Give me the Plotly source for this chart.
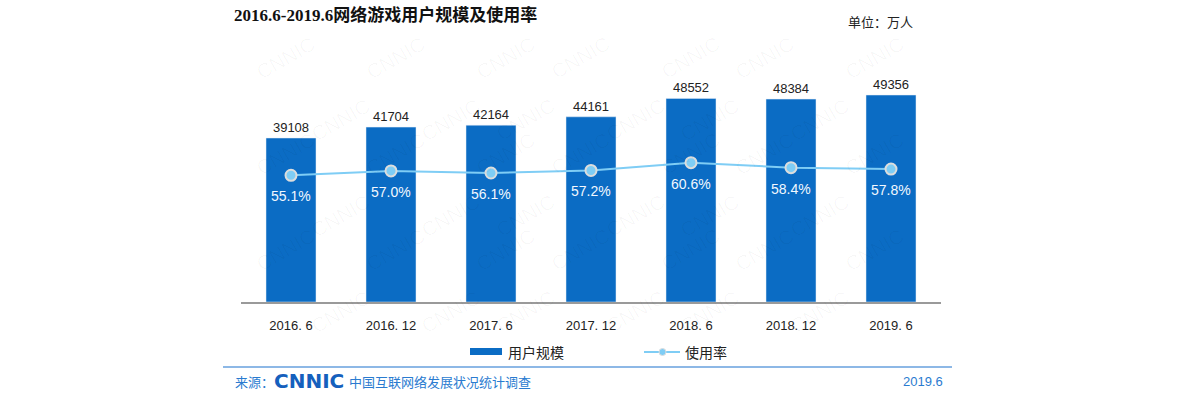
import plotly.graph_objects as go

categories = ["2016. 6", "2016. 12", "2017. 6", "2017. 12", "2018. 6", "2018. 12", "2019. 6"]
users = [39108, 41704, 42164, 44161, 48552, 48384, 49356]
rate = [55.1, 57.0, 56.1, 57.2, 60.6, 58.4, 57.8]
rate_labels = [f"{v:.1f}%" for v in rate]

CJK = "Noto Sans CJK SC"
SANS = "Liberation Sans, Arial, sans-serif"
BAR = "#0b6cc4"
LINE = "#7fcdf5"
BLUE_TXT = "#2a7bd0"

# plot area in page px: x 241..941, y 55..302 (body margin removed by post_script)
L, R, T, B = 241, 941, 55, 302
W, H = 1200, 394


def px(x):
    return (x - 241) / 700


def py(y):
    return (302 - y) / 247


fig = go.Figure()
fig.add_trace(go.Bar(
    x=categories, y=users, name="用户规模", marker_color=BAR, width=0.5,
    text=[str(v) for v in users], textposition="outside",
    textfont=dict(family=SANS, size=13, color="#222"), cliponaxis=False,
))
fig.add_trace(go.Scatter(
    x=categories, y=rate, name="使用率", yaxis="y2", mode="lines+markers",
    line=dict(color=LINE, width=2),
    marker=dict(color=LINE, size=11, line=dict(color="#dddddd", width=2)),
    cliponaxis=False,
))

ann = []
# faint watermark
for row, yy in enumerate(range(30, 360, 62)):
    for xx in range(250 + (row % 2) * 55, 960, 110):
        ann.append(dict(text="CNNIC", x=px(xx), y=py(yy),
                        xref="paper", yref="paper", showarrow=False, textangle=-30,
                        font=dict(family=SANS, size=20, color="rgba(0,0,0,0.03)")))

for c, v, t in zip(categories, rate, rate_labels):
    ann.append(dict(text=t, x=c, y=v, xref="x", yref="y2", showarrow=False,
                    yshift=-21, font=dict(family=SANS, size=14, color="#f2f8ff")))

ann += [
    dict(text="<b>2016.6-2019.6网络游戏用户规模及使用率</b>", x=px(232), y=py(15),
         xref="paper", yref="paper", xanchor="left", yanchor="middle", showarrow=False,
         font=dict(family="Liberation Serif, Noto Sans CJK SC", size=17, color="#111")),
    dict(text="单位：万人", x=px(915), y=py(21),
         xref="paper", yref="paper", xanchor="right", yanchor="middle", showarrow=False,
         font=dict(family=CJK, size=13, color="#222")),
    dict(text="用户规模", x=px(506), y=py(352),
         xref="paper", yref="paper", xanchor="left", yanchor="middle", showarrow=False,
         font=dict(family=CJK, size=14, color="#222")),
    dict(text="使用率", x=px(683), y=py(352),
         xref="paper", yref="paper", xanchor="left", yanchor="middle", showarrow=False,
         font=dict(family=CJK, size=14, color="#222")),
    dict(text="来源：", x=px(233), y=py(381),
         xref="paper", yref="paper", xanchor="left", yanchor="middle", showarrow=False,
         font=dict(family=CJK, size=13, color=BLUE_TXT)),
    dict(text="<b>CNNIC</b>", x=px(272), y=py(381),
         xref="paper", yref="paper", xanchor="left", yanchor="middle", showarrow=False,
         font=dict(family="DejaVu Sans, sans-serif", size=20, color="#1560bd")),
    dict(text="中国互联网络发展状况统计调查", x=px(347), y=py(381),
         xref="paper", yref="paper", xanchor="left", yanchor="middle", showarrow=False,
         font=dict(family=CJK, size=13, color=BLUE_TXT)),
    dict(text="2019.6", x=px(945), y=py(381),
         xref="paper", yref="paper", xanchor="right", yanchor="middle", showarrow=False,
         font=dict(family=SANS, size=13, color=BLUE_TXT)),
]

shapes = [
    # footer rule
    dict(type="line", xref="paper", yref="paper", x0=px(223), x1=px(952),
         y0=py(367), y1=py(367), line=dict(color="#8db8e6", width=2)),
    # legend: bar swatch
    dict(type="rect", xref="paper", yref="paper", x0=px(470), x1=px(502),
         y0=py(355), y1=py(348), fillcolor=BAR, line=dict(width=0)),
    # legend: line swatch
    dict(type="line", xref="paper", yref="paper", x0=px(644), x1=px(680),
         y0=py(352), y1=py(352), line=dict(color=LINE, width=2)),
    dict(type="circle", xref="paper", yref="paper", x0=px(659), x1=px(666),
         y0=py(355.5), y1=py(348.5), fillcolor=LINE, line=dict(color="#dddddd", width=1)),
]

fig.update_layout(
    width=W, height=H,
    margin=dict(l=L, r=W - R, t=T, b=H - B),
    paper_bgcolor="white", plot_bgcolor="white",
    bargap=0.5,
    xaxis=dict(showline=True, linecolor="#9a9a9a", linewidth=2, ticks="",
               tickfont=dict(family=SANS, size=13, color="#222"), ticklabelstandoff=10,
               showgrid=False, fixedrange=True),
    yaxis=dict(range=[0, 58900], visible=False, showgrid=False),
    yaxis2=dict(range=[0, 107.4], overlaying="y", visible=False, showgrid=False),
    showlegend=False,
    annotations=ann,
    shapes=shapes,
)

fig.write_html("out.html", config={"displayModeBar": False},
               post_script="document.body.style.margin='0';")
